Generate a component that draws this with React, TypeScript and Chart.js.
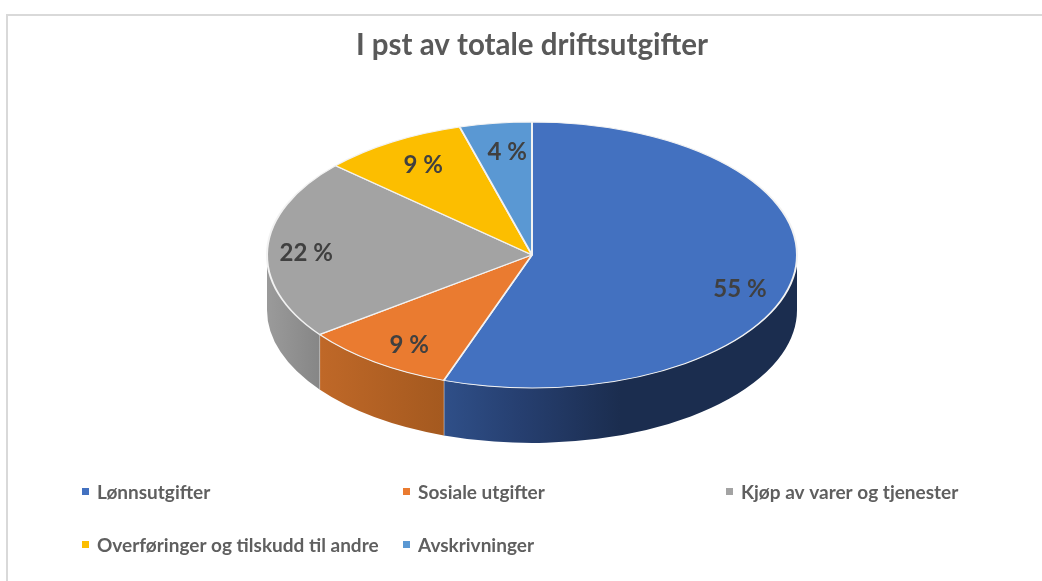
import React, { useEffect, useRef } from "react";
import { Chart, registerables } from "chart.js";

Chart.register(...registerables);

const titleText = "I pst av totale driftsutgifter";
const categories = [
  "Lønnsutgifter",
  "Sosiale utgifter",
  "Kjøp av varer og tjenester",
  "Overføringer og tilskudd til andre",
  "Avskrivninger",
];
const shares = [55.4, 9.4, 21.9, 8.9, 4.4];
const shareLabels = ["55 %", "9 %", "22 %", "9 %", "4 %"];
const sliceColors = ["#4371c0", "#ea7b30", "#a3a3a3", "#fcbe00", "#5a98d3"];

const FONT = "Lato, 'Noto Sans', sans-serif";
const RADIUS = 265;
const SQUASH = 0.502;
const DEPTH = 55;
const LABEL_RADIAL = 0.8;
const labelNudges = [[-1, 16.5], [3, 4.5], [-14, 3], [3, 1], [4.5, 2.5]];
const legendColumns = [82, 403, 726];
const legendRows = [493, 546];
const legendSlots = [[0, 0], [1, 0], [2, 0], [0, 1], [1, 1]];

type Stop = [number, string];
const wallGradients: Record<number, Stop[]> = {
  0: [[445, "#2f4f88"], [520, "#263f70"], [620, "#1b2d4f"], [800, "#1b2d4f"]],
  1: [[320, "#bf6828"], [445, "#a4591f"]],
  2: [[268, "#9a9a9a"], [320, "#868686"]],
};

const pie3d = {
  id: "pie3d",
  beforeDraw(chart: any) {
    const { ctx, width, height } = chart;
    ctx.save();
    ctx.fillStyle = "#ffffff";
    ctx.fillRect(0, 0, width, height);
    ctx.strokeStyle = "#d9d9d9";
    ctx.lineWidth = 2;
    ctx.beginPath();
    ctx.moveTo(7, height);
    ctx.lineTo(7, 15);
    ctx.lineTo(width, 15);
    ctx.stroke();
    ctx.restore();
  },
  beforeDatasetsDraw(chart: any) {
    const { ctx } = chart;
    const arcs = chart.getDatasetMeta(0).data;
    arcs.forEach((arc: any, i: number) => {
      const stops = wallGradients[i];
      if (!stops) return;
      // visible part of the wall: the angles on the near side of the disc
      const start = Math.max(arc.startAngle, 0);
      const end = Math.min(arc.endAngle, Math.PI);
      if (end <= start) return;
      const rx = arc.outerRadius;
      const ry = rx * SQUASH;
      ctx.save();
      ctx.beginPath();
      ctx.ellipse(arc.x, arc.y, rx, ry, 0, start, end);
      ctx.lineTo(arc.x + rx * Math.cos(end), arc.y + ry * Math.sin(end) + DEPTH);
      ctx.ellipse(arc.x, arc.y + DEPTH, rx, ry, 0, end, start, true);
      ctx.closePath();
      const x0 = stops[0][0];
      const x1 = stops[stops.length - 1][0];
      const grad = ctx.createLinearGradient(x0, 0, x1, 0);
      stops.forEach(([x, c]) => grad.addColorStop((x - x0) / (x1 - x0), c));
      ctx.fillStyle = grad;
      ctx.fill();
      if (end < Math.PI) {
        ctx.strokeStyle = "#eeeeee";
        ctx.lineWidth = 1;
        ctx.beginPath();
        const ex = arc.x + rx * Math.cos(end);
        const ey = arc.y + ry * Math.sin(end);
        ctx.moveTo(ex, ey);
        ctx.lineTo(ex, ey + DEPTH);
        ctx.stroke();
      }
      ctx.restore();
    });
  },
  beforeDatasetDraw(chart: any) {
    const { ctx } = chart;
    const arc = chart.getDatasetMeta(0).data[0];
    ctx.save();
    ctx.translate(arc.x, arc.y);
    ctx.scale(1, SQUASH);
    ctx.translate(-arc.x, -arc.y);
  },
  afterDatasetDraw(chart: any) {
    chart.ctx.restore();
  },
  afterDraw(chart: any) {
    const { ctx } = chart;
    const arcs = chart.getDatasetMeta(0).data;
    ctx.save();
    ctx.textBaseline = "middle";
    ctx.textAlign = "center";
    ctx.fillStyle = "#404040";
    ctx.font = `bold 24px ${FONT}`;
    arcs.forEach((arc: any, i: number) => {
      const mid = (arc.startAngle + arc.endAngle) / 2;
      const r = arc.outerRadius * LABEL_RADIAL;
      const [nx, ny] = labelNudges[i];
      ctx.fillText(
        shareLabels[i],
        arc.x + r * Math.cos(mid) + nx,
        arc.y + r * SQUASH * Math.sin(mid) + ny
      );
    });
    ctx.textAlign = "left";
    ctx.font = `bold 19px ${FONT}`;
    categories.forEach((label, i) => {
      const [c, r] = legendSlots[i];
      const x = legendColumns[c];
      const y = legendRows[r];
      ctx.fillStyle = sliceColors[i];
      ctx.fillRect(x, y - 5, 7, 7);
      ctx.fillStyle = "#5f5f5f";
      ctx.fillText(label, x + 15, y);
    });
    ctx.restore();
  },
};

export default function App() {
  const ref = useRef<HTMLCanvasElement | null>(null);
  useEffect(() => {
    if (!ref.current) return;
    const chart = new Chart(ref.current, {
      type: "pie",
      data: {
        labels: categories,
        datasets: [
          {
            data: shares,
            backgroundColor: sliceColors,
            borderColor: "#f2f2f2",
            borderWidth: 2,
            radius: RADIUS,
            clip: false,
          } as any,
        ],
      },
      options: {
        responsive: false,
        animation: false,
        layout: { padding: { left: 22, top: 0, right: 0, bottom: 143.5 } },
        plugins: {
          legend: { display: false },
          tooltip: { enabled: false },
          title: {
            display: true,
            text: titleText,
            color: "#595959",
            font: { family: FONT, size: 29.5, weight: "bold" },
            padding: { top: 28, bottom: 9 },
          },
        },
      },
      plugins: [pie3d],
    } as any);
    return () => chart.destroy();
  }, []);
  return (
    <div style={{ position: "fixed", left: 0, top: 0, width: 1042, height: 581, background: "#fff" }}>
      <canvas ref={ref} width={1042} height={581} style={{ display: "block" }} />
    </div>
  );
}
